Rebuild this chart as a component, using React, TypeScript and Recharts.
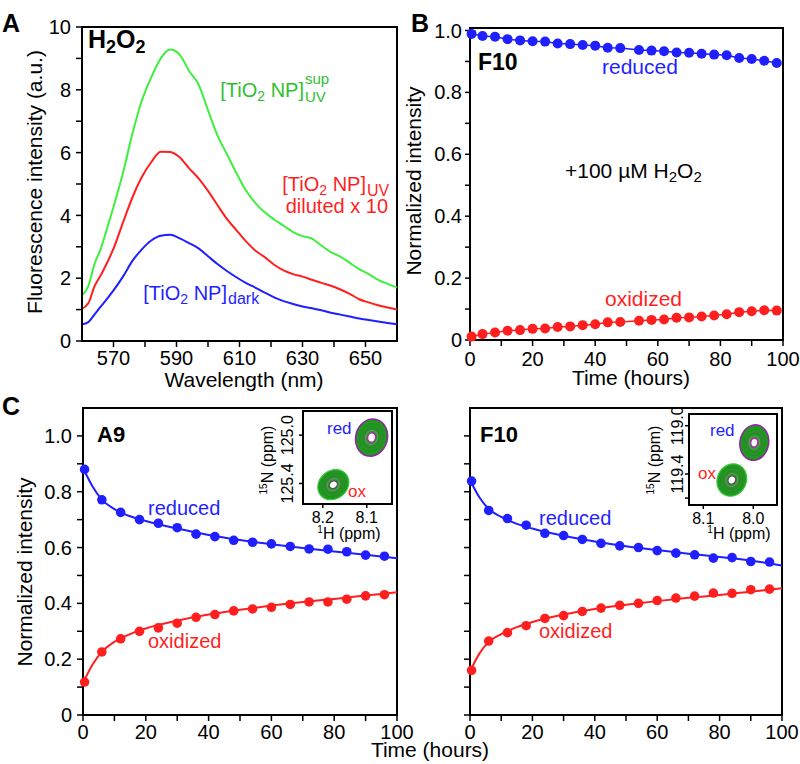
import React from 'react';
import { LineChart, Line, XAxis, YAxis, ReferenceArea, ScatterChart, Scatter } from 'recharts';

const FONT = '"Liberation Sans", Arial, Helvetica, sans-serif';
const BLUE = '#1f1fff';
const RED = '#ff1f1f';
const GREEN = '#3ef03e';
const GREEN_TXT = '#2fc02f';

// A: fluorescence spectra (a.u.)
const wavelengths = [560, 562, 564, 566, 568, 570, 573, 576, 579, 582, 585, 588, 591, 594, 597, 600, 603, 606, 609, 612, 615, 618, 621, 624, 627, 630, 633, 636, 639, 642, 645, 648, 651, 654, 657, 660];
const supUV = [1.45, 1.75, 2.46, 2.95, 3.6, 4.27, 5.35, 6.6, 7.66, 8.4, 9.0, 9.28, 9.12, 8.6, 8.17, 7.35, 6.55, 5.95, 5.35, 4.8, 4.4, 4.1, 3.87, 3.67, 3.47, 3.34, 3.26, 3.04, 2.83, 2.69, 2.49, 2.29, 2.13, 1.95, 1.82, 1.7];
const uvDiluted = [1.03, 1.2, 1.75, 2.1, 2.5, 2.94, 3.77, 4.57, 5.22, 5.7, 6.03, 6.02, 5.85, 5.5, 5.18, 4.78, 4.33, 3.89, 3.53, 3.18, 2.88, 2.67, 2.43, 2.25, 2.13, 2.05, 1.95, 1.85, 1.76, 1.64, 1.5, 1.33, 1.23, 1.14, 1.07, 1.0];
const darkSpec = [0.53, 0.6, 0.85, 1.1, 1.35, 1.61, 2.05, 2.55, 2.92, 3.2, 3.35, 3.38, 3.27, 3.12, 2.95, 2.7, 2.45, 2.23, 2.03, 1.85, 1.7, 1.54, 1.39, 1.27, 1.18, 1.1, 1.04, 0.98, 0.9, 0.84, 0.78, 0.72, 0.67, 0.62, 0.57, 0.53];
const wlTicks = [570, 580, 590, 600, 610, 620, 630, 640, 650];
const flTicks = [0, 1, 2, 3, 4, 5, 6, 7, 8, 9, 10];

// B: F10 + 100 uM H2O2
const bTimes = [0.5, 4, 8, 12, 16, 20, 24, 28, 32, 36, 40, 44, 48, 54, 58, 62, 66, 70, 74, 78, 82, 86, 90, 94, 98];
const bReduced = [0.989, 0.982, 0.98, 0.972, 0.968, 0.965, 0.964, 0.958, 0.956, 0.953, 0.951, 0.944, 0.943, 0.937, 0.935, 0.933, 0.929, 0.928, 0.925, 0.922, 0.92, 0.911, 0.908, 0.902, 0.895];
const bOxidized = [0.011, 0.019, 0.024, 0.03, 0.032, 0.036, 0.037, 0.042, 0.044, 0.048, 0.051, 0.057, 0.058, 0.062, 0.065, 0.066, 0.072, 0.073, 0.076, 0.079, 0.083, 0.09, 0.093, 0.096, 0.095];

// C: A9 and F10 time courses with fits
const cTimes = [0.5, 6, 12, 18, 24, 30, 36, 42, 48, 54, 60, 66, 72, 78, 84, 90, 96];
const a9Reduced = [0.88, 0.771, 0.726, 0.7, 0.687, 0.671, 0.648, 0.639, 0.626, 0.619, 0.613, 0.604, 0.595, 0.594, 0.585, 0.573, 0.569];
const a9Oxidized = [0.118, 0.226, 0.273, 0.3, 0.312, 0.329, 0.35, 0.36, 0.373, 0.38, 0.386, 0.396, 0.405, 0.405, 0.415, 0.427, 0.431];
const f10Reduced = [0.838, 0.733, 0.704, 0.68, 0.651, 0.643, 0.629, 0.615, 0.606, 0.6, 0.589, 0.58, 0.574, 0.562, 0.564, 0.55, 0.548];
const f10Oxidized = [0.16, 0.265, 0.295, 0.32, 0.346, 0.356, 0.371, 0.383, 0.393, 0.4, 0.41, 0.419, 0.426, 0.437, 0.436, 0.449, 0.451];
const fitTimes = [0, 3, 6, 10, 15, 20, 30, 40, 50, 60, 70, 80, 90, 100];
const a9RedFit = [0.885, 0.82, 0.772, 0.738, 0.712, 0.695, 0.668, 0.645, 0.627, 0.612, 0.598, 0.586, 0.574, 0.562];
const a9OxFit = [0.115, 0.18, 0.226, 0.262, 0.29, 0.31, 0.338, 0.36, 0.377, 0.392, 0.405, 0.416, 0.428, 0.44];
const f10RedFit = [0.842, 0.78, 0.738, 0.71, 0.685, 0.668, 0.642, 0.622, 0.605, 0.591, 0.578, 0.566, 0.553, 0.536];
const f10OxFit = [0.156, 0.22, 0.262, 0.29, 0.315, 0.333, 0.36, 0.38, 0.395, 0.408, 0.42, 0.43, 0.442, 0.454];
const timeTicks = [0, 10, 20, 30, 40, 50, 60, 70, 80, 90, 100];
const normTicks = [0, 0.1, 0.2, 0.3, 0.4, 0.5, 0.6, 0.7, 0.8, 0.9, 1.0];

// insets: NMR peak positions (ppm)
const a9PeakH = [8.089, 8.176];
const a9PeakN = [125.02, 125.41];
const f10PeakH = [7.998, 8.043];
const f10PeakN = [119.14, 119.45];
const peakKinds = ['red', 'ox'];

const spectraRows = wavelengths.map((wl, i) => ({ wl, sup: supUV[i], uv: uvDiluted[i], dark: darkSpec[i] }));
const bRows = bTimes.map((t, i) => ({ t, red: bReduced[i], ox: bOxidized[i] }));
const rows = (xs: number[], ys: number[]) => xs.map((t, i) => ({ t, v: ys[i] }));
const peaks = (hs: number[], ns: number[]) => hs.map((h, i) => ({ h, n: ns[i], kind: peakKinds[i] }));

const axisLine = { stroke: '#000', strokeWidth: 2 };
const tickLine = { stroke: '#000', strokeWidth: 1.5 };
const tickFont = { fill: '#000', fontSize: 20, fontFamily: FONT };

const evenTens = (v: number) => (Math.round(v / 10) % 2 === 0 ? String(v) : '');
const normFmt = (v: number) => {
  const k = Math.round(v * 10);
  if (k % 2 !== 0) return '';
  return k === 0 ? '0' : v.toFixed(1);
};

type PeakStyle = { rx: number; ry: number; rot: number };

function makePeakShape(styles: Record<string, PeakStyle>) {
  return (props: any) => {
    const { cx, cy, payload } = props;
    const s = styles[payload.kind];
    const rim = payload.kind === 'red';
    return (
      <g transform={`translate(${cx} ${cy}) rotate(${s.rot})`}>
        {rim && <ellipse rx={s.rx + 1.6} ry={s.ry + 1.6} fill="#8e2a9e" />}
        <ellipse rx={s.rx} ry={s.ry} fill="#1f9a1f" stroke={rim ? 'none' : '#3cc83c'} strokeWidth={1.2} />
        <ellipse rx={s.rx * 0.78} ry={s.ry * 0.78} fill="none" stroke="#2f7a2f" strokeWidth={0.6} />
        <ellipse rx={s.rx * 0.58} ry={s.ry * 0.58} fill="none" stroke="#4a6a4a" strokeWidth={0.7} />
        <ellipse rx={s.rx * 0.4} ry={s.ry * 0.4} fill="none" stroke="#8a8a8a" strokeWidth={0.8} />
        <ellipse rx={s.rx * 0.26} ry={s.ry * 0.26} fill="#fff" stroke={rim ? '#c020c0' : '#555'} strokeWidth={1.3} />
        <ellipse rx={s.rx * 0.1} ry={s.ry * 0.1} fill="#fff" />
      </g>
    );
  };
}

const RotTick = (props: any) => {
  const { x, y, payload } = props;
  return (
    <text x={x} y={y} transform={`rotate(-90 ${x} ${y})`} textAnchor="middle" fontSize={16} fontFamily={FONT} fill="#000">
      {payload.value === 119.6 ? '' : payload.value.toFixed(1)}
    </text>
  );
};

// inset box: plot area [plotLeft..plotRight] x [plotTop..plotBottom] in page pixels
function Inset({ left, plotLeft, plotRight, plotTop, plotBottom, xDomain, yDomain, xTicks, yTicks, tickMargin, data, styles }: any) {
  const top = 396;
  const width = plotRight + 3 - left;
  const height = 150;
  const shape = makePeakShape(styles);
  return (
    <div style={{ position: 'absolute', left, top }}>
      <ScatterChart width={width} height={height} margin={{ top: plotTop - top, right: 3, bottom: 0, left: 0 }}>
        <XAxis type="number" dataKey="h" domain={xDomain} reversed ticks={xTicks} interval={0} allowDataOverflow
          height={top + height - plotBottom} tickSize={4} tickMargin={4}
          tickFormatter={(v: number) => v.toFixed(1)} axisLine={axisLine} tickLine={tickLine}
          tick={{ fill: '#000', fontSize: 16, fontFamily: FONT }} />
        <YAxis type="number" dataKey="n" domain={yDomain} reversed ticks={yTicks} interval={0} allowDataOverflow
          width={plotLeft - left} tickSize={4} tickMargin={tickMargin} axisLine={axisLine} tickLine={tickLine} tick={<RotTick />} />
        <ReferenceArea x1={xDomain[0]} x2={xDomain[1]} y1={yDomain[0]} y2={yDomain[1]} fill="#fff" fillOpacity={1} stroke="#000" strokeWidth={2} />
        <Scatter data={data} shape={shape} isAnimationActive={false} />
      </ScatterChart>
    </div>
  );
}

function Sub({ children, size = 14, d = 4 }: any) {
  return <tspan fontSize={size} dy={d}>{children}</tspan>;
}

export default function App() {
  return (
    <div style={{ position: 'absolute', left: 0, top: 0, width: 800, height: 764, background: '#fff', fontFamily: FONT }}>
      {/* A */}
      <div style={{ position: 'absolute', left: 0, top: 0 }}>
        <LineChart width={400} height={390} data={spectraRows} margin={{ top: 27, right: 3, bottom: 0, left: 0 }}>
          <XAxis type="number" dataKey="wl" domain={[560, 660]} ticks={wlTicks} interval={0} height={49}
            tickFormatter={(v: number) => (Math.round((v - 570) / 10) % 2 === 0 ? String(v) : '')}
            tickSize={6} tickMargin={4} axisLine={axisLine} tickLine={tickLine} tick={tickFont} />
          <YAxis type="number" domain={[0, 10]} ticks={flTicks} interval={0} width={82}
            tickFormatter={(v: number) => (v % 2 === 0 ? String(v) : '')}
            tickSize={6} tickMargin={5} axisLine={axisLine} tickLine={tickLine} tick={tickFont} />
          <ReferenceArea x1={560} x2={660} y1={0} y2={10} fill="none" stroke="#000" strokeWidth={2} />
          <Line dataKey="sup" type="monotone" stroke={GREEN} strokeWidth={2} dot={false} isAnimationActive={false} />
          <Line dataKey="uv" type="monotone" stroke={RED} strokeWidth={2} dot={false} isAnimationActive={false} />
          <Line dataKey="dark" type="monotone" stroke={BLUE} strokeWidth={2} dot={false} isAnimationActive={false} />
        </LineChart>
      </div>

      {/* B */}
      <div style={{ position: 'absolute', left: 400, top: 0 }}>
        <LineChart width={400} height={390} data={bRows} margin={{ top: 28, right: 17, bottom: 0, left: 0 }}>
          <XAxis type="number" dataKey="t" domain={[0, 100]} ticks={timeTicks} interval={0} height={50}
            tickFormatter={evenTens} tickSize={6} tickMargin={6} axisLine={axisLine} tickLine={tickLine} tick={tickFont} />
          <YAxis type="number" domain={[0, 1.008]} ticks={normTicks} interval={0} width={70}
            tickFormatter={normFmt} tickSize={5} tickMargin={3} axisLine={axisLine} tickLine={tickLine} tick={tickFont} />
          <ReferenceArea x1={0} x2={100} y1={0} y2={1.008} fill="none" stroke="#000" strokeWidth={2} />
          <Line dataKey="red" stroke={BLUE} strokeWidth={1.5} dot={{ r: 5, fill: BLUE, strokeWidth: 0 }} isAnimationActive={false} />
          <Line dataKey="ox" stroke={RED} strokeWidth={1.5} dot={{ r: 5, fill: RED, strokeWidth: 0 }} isAnimationActive={false} />
        </LineChart>
      </div>

      {/* C left (A9) */}
      <div style={{ position: 'absolute', left: 0, top: 390 }}>
        <LineChart width={425} height={374} margin={{ top: 18, right: 28, bottom: 0, left: 0 }}>
          <XAxis type="number" dataKey="t" domain={[0, 100]} ticks={timeTicks} interval={0} height={49}
            tickFormatter={evenTens} tickSize={6} tickMargin={4} axisLine={axisLine} tickLine={tickLine} tick={tickFont} />
          <YAxis type="number" domain={[0, 1.1]} ticks={normTicks} interval={0} width={83}
            tickFormatter={normFmt} tickSize={6} tickMargin={5} axisLine={axisLine} tickLine={tickLine} tick={tickFont} />
          <ReferenceArea x1={0} x2={100} y1={0} y2={1.1} fill="none" stroke="#000" strokeWidth={2} />
          <Line data={rows(fitTimes, a9RedFit)} dataKey="v" type="monotone" stroke={BLUE} strokeWidth={2} dot={false} isAnimationActive={false} />
          <Line data={rows(fitTimes, a9OxFit)} dataKey="v" type="monotone" stroke={RED} strokeWidth={2} dot={false} isAnimationActive={false} />
          <Line data={rows(cTimes, a9Reduced)} dataKey="v" stroke="none" dot={{ r: 4.8, fill: BLUE, strokeWidth: 0 }} isAnimationActive={false} />
          <Line data={rows(cTimes, a9Oxidized)} dataKey="v" stroke="none" dot={{ r: 4.8, fill: RED, strokeWidth: 0 }} isAnimationActive={false} />
        </LineChart>
      </div>

      {/* C right (F10) */}
      <div style={{ position: 'absolute', left: 400, top: 390 }}>
        <LineChart width={400} height={374} margin={{ top: 18, right: 18, bottom: 0, left: 0 }}>
          <XAxis type="number" dataKey="t" domain={[0, 100]} ticks={timeTicks} interval={0} height={49}
            tickFormatter={evenTens} tickSize={6} tickMargin={4} axisLine={axisLine} tickLine={tickLine} tick={tickFont} />
          <YAxis type="number" domain={[0, 1.1]} ticks={normTicks} interval={0} width={70}
            tickFormatter={() => ''} tickSize={6} tickMargin={5} axisLine={axisLine} tickLine={tickLine} tick={tickFont} />
          <ReferenceArea x1={0} x2={100} y1={0} y2={1.1} fill="none" stroke="#000" strokeWidth={2} />
          <Line data={rows(fitTimes, f10RedFit)} dataKey="v" type="monotone" stroke={BLUE} strokeWidth={2} dot={false} isAnimationActive={false} />
          <Line data={rows(fitTimes, f10OxFit)} dataKey="v" type="monotone" stroke={RED} strokeWidth={2} dot={false} isAnimationActive={false} />
          <Line data={rows(cTimes, f10Reduced)} dataKey="v" stroke="none" dot={{ r: 4.8, fill: BLUE, strokeWidth: 0 }} isAnimationActive={false} />
          <Line data={rows(cTimes, f10Oxidized)} dataKey="v" stroke="none" dot={{ r: 4.8, fill: RED, strokeWidth: 0 }} isAnimationActive={false} />
        </LineChart>
      </div>

      <Inset left={255} plotLeft={303} plotRight={392} plotTop={411} plotBottom={504} tickMargin={6}
        xDomain={[8.0425, 8.245]} yDomain={[124.8, 125.57]} xTicks={[8.1, 8.2]} yTicks={[125.0, 125.4]}
        data={peaks(a9PeakH, a9PeakN)}
        styles={{ red: { rx: 15, ry: 18, rot: 15 }, ox: { rx: 16.5, ry: 14, rot: -40 } }} />
      <Inset left={640} plotLeft={689} plotRight={777} plotTop={414} plotBottom={505} tickMargin={2}
        xDomain={[7.9526, 8.1286]} yDomain={[118.903, 119.657]} xTicks={[8.0, 8.1]} yTicks={[119.0, 119.4, 119.6]}
        data={peaks(f10PeakH, f10PeakN)}
        styles={{ red: { rx: 13.5, ry: 17, rot: 10 }, ox: { rx: 14.5, ry: 16.5, rot: 25 } }} />

      <svg width={800} height={764} style={{ position: 'absolute', left: 0, top: 0, pointerEvents: 'none' }} fontFamily={FONT}>
        <text x={2} y={32} fontSize={25} fontWeight={700}>A</text>
        <text x={411} y={32} fontSize={25} fontWeight={700}>B</text>
        <text x={2} y={415} fontSize={25} fontWeight={700}>C</text>

        {/* A annotations */}
        <text x={88} y={48} fontSize={25} fontWeight={700}>H<Sub size={18} d={5}>2</Sub><tspan dy={-5}>O</tspan><Sub size={18} d={5}>2</Sub></text>
        <text x={304} y={97} fontSize={20} fill={GREEN_TXT} textAnchor="end">[TiO<Sub>2</Sub><tspan dy={-4}> NP]</tspan></text>
        <text x={305} y={84} fontSize={15} fill={GREEN_TXT}>sup</text>
        <text x={305} y={102} fontSize={15} fill={GREEN_TXT}>UV</text>
        <text x={366} y={191} fontSize={20} fill={RED} textAnchor="end">[TiO<Sub>2</Sub><tspan dy={-4}> NP]</tspan></text>
        <text x={367} y={196} fontSize={16} fill={RED}>UV</text>
        <text x={388} y={213} fontSize={20} fill={RED} textAnchor="end">diluted x 10</text>
        <text x={227} y={300} fontSize={20} fill={BLUE} textAnchor="end">[TiO<Sub>2</Sub><tspan dy={-4}> NP]</tspan></text>
        <text x={228} y={304} fontSize={16} fill={BLUE}>dark</text>
        <text x={244} y={387} fontSize={21} textAnchor="middle">Wavelength (nm)</text>
        <text x={42} y={182} fontSize={21} textAnchor="middle" transform="rotate(-90 42 182)">Fluorescence intensity (a.u.)</text>

        {/* B annotations */}
        <text x={478} y={70} fontSize={23} fontWeight={700}>F10</text>
        <text x={602} y={74} fontSize={21} fill={BLUE}>reduced</text>
        <text x={565} y={178} fontSize={21}>+100 µM H<Sub size={15} d={4}>2</Sub><tspan dy={-4}>O</tspan><Sub size={15} d={4}>2</Sub></text>
        <text x={605} y={306} fontSize={21} fill={RED}>oxidized</text>
        <text x={631} y={385} fontSize={21} textAnchor="middle">Time (hours)</text>
        <text x={421} y={181} fontSize={21} textAnchor="middle" transform="rotate(-90 421 181)">Normalized intensity</text>

        {/* C annotations */}
        <text x={97} y={442} fontSize={22} fontWeight={700}>A9</text>
        <text x={148} y={515} fontSize={20} fill={BLUE}>reduced</text>
        <text x={148} y={648} fontSize={20} fill={RED}>oxidized</text>
        <text x={480} y={442} fontSize={22} fontWeight={700}>F10</text>
        <text x={539} y={525} fontSize={20} fill={BLUE}>reduced</text>
        <text x={539} y={638} fontSize={20} fill={RED}>oxidized</text>
        <text x={32} y={572} fontSize={21} textAnchor="middle" transform="rotate(-90 32 572)">Normalized intensity</text>
        <text x={430} y={757} fontSize={21} textAnchor="middle">Time (hours)</text>

        {/* inset labels */}
        <text x={327} y={434} fontSize={17} fill={BLUE}>red</text>
        <text x={348} y={497} fontSize={17} fill={RED}>ox</text>
        <text x={349} y={539} fontSize={16} textAnchor="middle"><tspan fontSize={10} dy={-6}>1</tspan><tspan dy={6}>H (ppm)</tspan></text>
        <text x={273} y={460} fontSize={16} textAnchor="middle" transform="rotate(-90 273 460)"><tspan fontSize={10} dy={-6}>15</tspan><tspan dy={6}>N (ppm)</tspan></text>
        <text x={710} y={436} fontSize={17} fill={BLUE}>red</text>
        <text x={698} y={479} fontSize={17} fill={RED}>ox</text>
        <text x={739} y={539} fontSize={16} textAnchor="middle"><tspan fontSize={10} dy={-6}>1</tspan><tspan dy={6}>H (ppm)</tspan></text>
        <text x={660} y={460} fontSize={16} textAnchor="middle" transform="rotate(-90 660 460)"><tspan fontSize={10} dy={-6}>15</tspan><tspan dy={6}>N (ppm)</tspan></text>
      </svg>
    </div>
  );
}
